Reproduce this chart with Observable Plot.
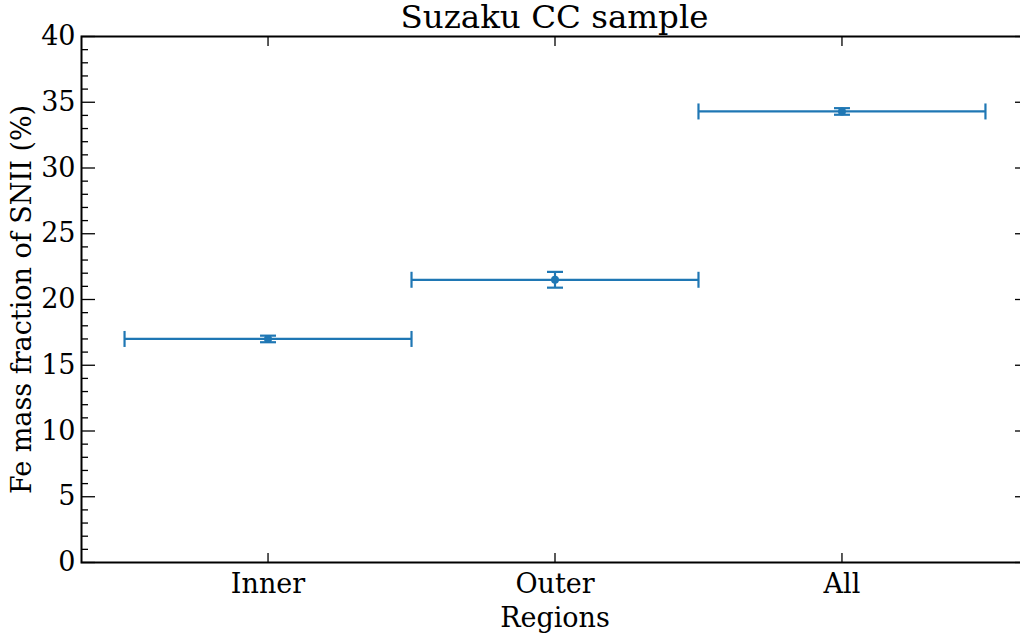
<!DOCTYPE html>
<html>
<head>
<meta charset="utf-8">
<script src="https://cdn.jsdelivr.net/npm/d3@7"></script>
<script src="https://cdn.jsdelivr.net/npm/@observablehq/plot@0.6"></script>
<style>
  html, body { margin: 0; padding: 0; background: #fff; overflow: hidden; }
  #wrap { position: relative; width: 1020px; height: 634px; }
  #title { position: absolute; left: 81px; top: 0; width: 947px; height: 34px; line-height: 34px; text-align: center;
           font-family: "DejaVu Serif", serif; font-size: 32.5px; color: #000; }
  svg { display: block; }
  svg text { font-family: "DejaVu Serif", serif !important; font-variant: normal !important; font-variant-numeric: normal !important; }
</style>
</head>
<body>
<div id="wrap">
<div id="chart"></div>
<div id="title">Suzaku CC sample</div>
</div>
<script>
// Data
const categories = ["Inner", "Outer", "All"];
const positions = [0, 1, 2];
const values = [17.0, 21.5, 34.3];
const yErrors = [0.25, 0.6, 0.25];
const xErrors = [0.5, 0.5, 0.5];
const yMajorTicks = [0, 5, 10, 15, 20, 25, 30, 35, 40];

const data = categories.map((c, i) => ({
  name: c, x: positions[i], v: values[i], ye: yErrors[i], xe: xErrors[i]
}));

const color = "#1f77b4";
const vline = {draw(ctx, size) { const r = Math.sqrt(size / Math.PI); ctx.moveTo(0, -r); ctx.lineTo(0, r); }};
const hline = {draw(ctx, size) { const r = Math.sqrt(size / Math.PI); ctx.moveTo(-r, 0); ctx.lineTo(r, 0); }};
const minorTicks = d3.range(0, 41, 1).filter(t => t % 5 !== 0);

const font = "DejaVu Serif";
const chart = Plot.plot({
  width: 1020,
  height: 634,
  marginLeft: 81,
  marginRight: -8,
  marginTop: 36,
  marginBottom: 72,
  style: {fontFamily: font, fontSize: "27px", color: "#000"},
  x: {domain: [-0.65, 2.65]},
  y: {domain: [0, 40]},
  marks: [
    Plot.axisY({ticks: minorTicks, tickSize: -7, tickFormat: () => "", strokeWidth: 1.3, label: null}),
    Plot.axisY({anchor: "right", ticks: yMajorTicks, tickSize: -14, tickFormat: () => "", strokeWidth: 1.3, label: null}),
    Plot.axisY({ticks: yMajorTicks, tickSize: -14, tickPadding: 20, strokeWidth: 1.3, tickFormat: d => String(d),
      fontFamily: font, fontSize: 27, fontVariant: "normal",
      label: "Fe mass fraction of SNII (%)", labelAnchor: "center", labelOffset: 70, labelArrow: "none"}),
    Plot.axisX({anchor: "top", ticks: positions, tickSize: -9, tickFormat: () => "", strokeWidth: 1.3, label: null}),
    Plot.axisX({ticks: positions, tickSize: -9, tickPadding: 20, tickFormat: i => categories[i], strokeWidth: 1.3,
      fontFamily: font, fontSize: 27, label: "Regions", labelAnchor: "center", labelOffset: 64, labelArrow: "none"}),
    Plot.frame({stroke: "#000", strokeWidth: 2}),
    // error bars
    Plot.ruleY(data, {y: "v", x1: d => d.x - d.xe, x2: d => d.x + d.xe, stroke: color, strokeWidth: 2.2}),
    Plot.ruleX(data, {x: "x", y1: d => d.v - d.ye, y2: d => d.v + d.ye, stroke: color, strokeWidth: 2.2}),
    Plot.dot(data, {x: d => d.x - d.xe, y: "v", symbol: vline, r: 8, stroke: color, strokeWidth: 2.2}),
    Plot.dot(data, {x: d => d.x + d.xe, y: "v", symbol: vline, r: 8, stroke: color, strokeWidth: 2.2}),
    Plot.dot(data, {x: "x", y: d => d.v - d.ye, symbol: hline, r: 8, stroke: color, strokeWidth: 2.2}),
    Plot.dot(data, {x: "x", y: d => d.v + d.ye, symbol: hline, r: 8, stroke: color, strokeWidth: 2.2}),
    Plot.dot(data, {x: "x", y: "v", r: 4, fill: color})
  ]
});
document.getElementById("chart").appendChild(chart);
</script>
</body>
</html>
